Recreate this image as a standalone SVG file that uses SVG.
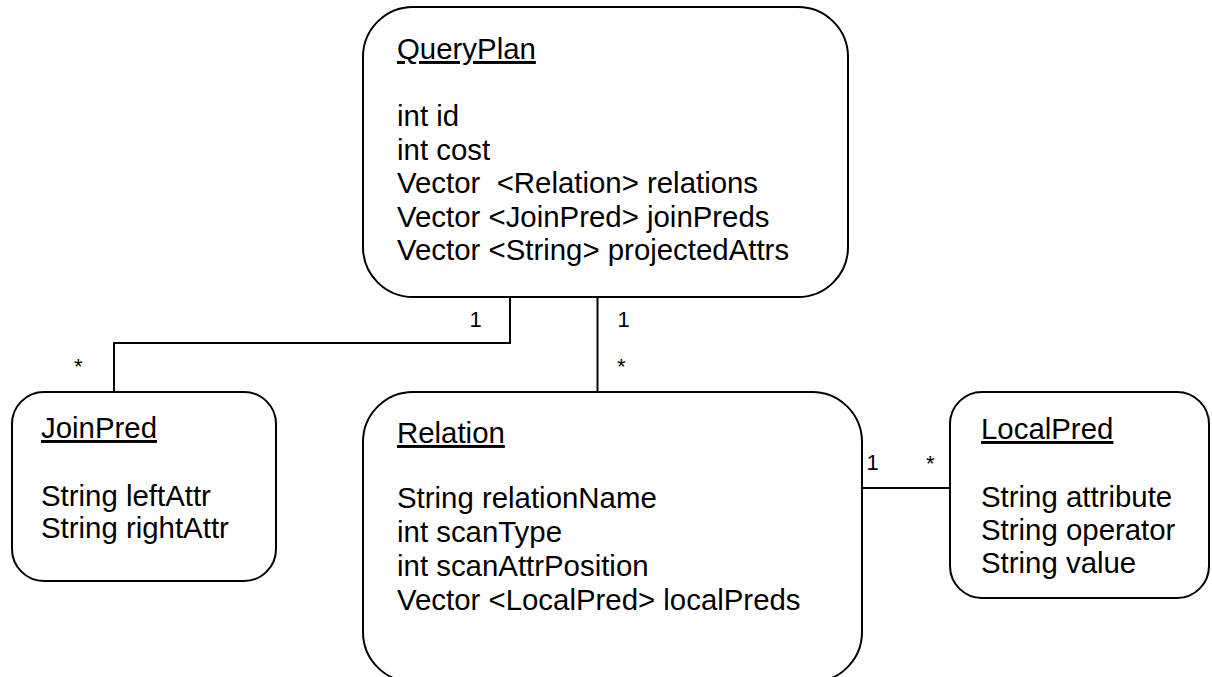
<svg xmlns="http://www.w3.org/2000/svg" width="1212" height="677" viewBox="0 0 1212 677">
<style>
.box{fill:#fff;stroke:#000;stroke-width:2}
.t{font-family:"Liberation Sans",Arial,sans-serif;font-size:29.4px;fill:#000}
.u{text-decoration:underline}
.m{font-family:"Liberation Sans",Arial,sans-serif;font-size:22px;fill:#000}
.c{fill:none;stroke:#000;stroke-width:2}
</style>
<rect width="1212" height="677" fill="#fff"/>
<g id="connectors">
<polyline class="c" points="510,297 510,343 114,343 114,392"/>
<line class="c" x1="597.5" y1="297" x2="597.5" y2="392"/>
<line class="c" x1="863" y1="488" x2="950" y2="488"/>
<text class="m" x="469.6" y="327">1</text>
<text class="m" x="617.6" y="327">1</text>
<text class="m" x="617" y="374">*</text>
<text class="m" x="74" y="374">*</text>
<text class="m" x="866.6" y="470">1</text>
<text class="m" x="926" y="471">*</text>
</g>
<g id="QueryPlan">
<rect class="box" x="363" y="7" width="485" height="290" rx="50" ry="50"/>
<text class="t u" x="397" y="59">QueryPlan</text>
<text class="t" x="397" y="126">int id</text>
<text class="t" x="397" y="159.5">int cost</text>
<text class="t" x="397" y="193" xml:space="preserve">Vector  &lt;Relation&gt; relations</text>
<text class="t" x="397" y="226.5">Vector &lt;JoinPred&gt; joinPreds</text>
<text class="t" x="397" y="260">Vector &lt;String&gt; projectedAttrs</text>
</g>
<g id="JoinPred">
<rect class="box" x="12" y="392" width="264" height="189" rx="32" ry="32"/>
<text class="t u" x="41" y="438">JoinPred</text>
<text class="t" x="41" y="506">String leftAttr</text>
<text class="t" x="41" y="538">String rightAttr</text>
</g>
<g id="Relation">
<rect class="box" x="363" y="392" width="499" height="290" rx="50" ry="50"/>
<text class="t u" x="397" y="443">Relation</text>
<text class="t" x="397" y="508">String relationName</text>
<text class="t" x="397" y="542">int scanType</text>
<text class="t" x="397" y="576">int scanAttrPosition</text>
<text class="t" x="397" y="610">Vector &lt;LocalPred&gt; localPreds</text>
</g>
<g id="LocalPred">
<rect class="box" x="950" y="392" width="259" height="206" rx="32" ry="32"/>
<text class="t u" x="981" y="439">LocalPred</text>
<text class="t" x="981" y="507">String attribute</text>
<text class="t" x="981" y="540">String operator</text>
<text class="t" x="981" y="573">String value</text>
</g>
</svg>
